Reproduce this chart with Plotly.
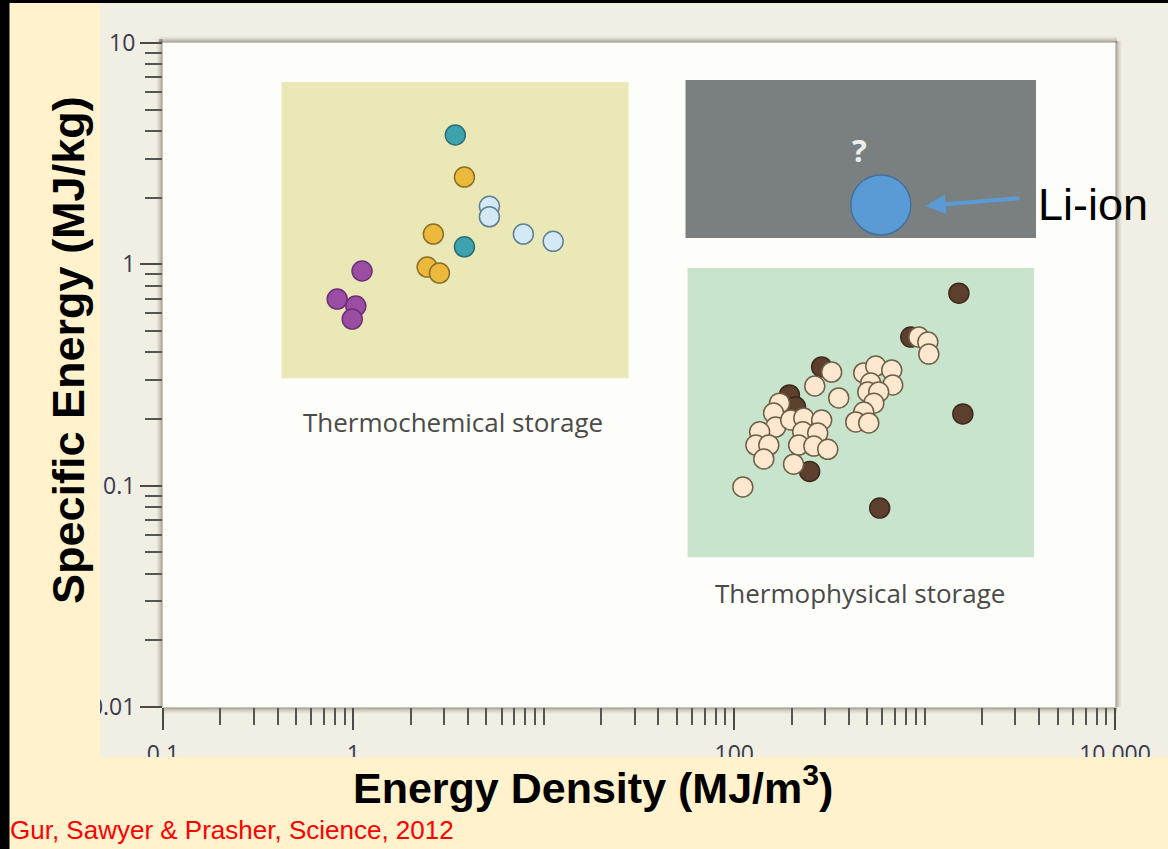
import numpy as np
import plotly.graph_objects as go

# ---------------- data ----------------
purple_x = [1.11, 0.822, 1.03, 0.986]
purple_y = [0.933, 0.697, 0.648, 0.566]
yellow_x = [3.83, 2.63, 2.44, 2.83]
yellow_y = [2.48, 1.37, 0.972, 0.913]
teal_x = [3.43, 3.83]
teal_y = [3.84, 1.20]
lightblue_x = [5.18, 5.18, 7.81, 11.2]
lightblue_y = [1.83, 1.64, 1.37, 1.27]

dark_x = [1514, 846, 288, 195, 210, 249, 1588, 581]
dark_y = [0.741, 0.469, 0.344, 0.257, 0.227, 0.116, 0.211, 0.0792]
cream_x = [932, 1040, 1052, 325, 265, 354, 479, 554, 672, 521, 680, 503, 574,
           541, 479, 435, 509, 173, 161, 165, 198, 232, 288, 229, 274.5, 136,
           130, 152, 218, 262, 310, 143, 205, 111]
cream_y = [0.469, 0.4455, 0.393, 0.326, 0.282, 0.249, 0.323, 0.347, 0.333,
           0.291, 0.285, 0.265, 0.265, 0.236, 0.215, 0.194, 0.192, 0.236,
           0.213, 0.184, 0.198, 0.202, 0.198, 0.175, 0.173, 0.175, 0.1526,
           0.1526, 0.1526, 0.151, 0.146, 0.132, 0.125, 0.0986]
liion_x = [589]
liion_y = [1.855]

x_tickvals = [0.1, 1, 100, 10000]
x_ticktext = ["0.1", "1", "100", "10 000"]
y_tickvals = [0.01, 0.1, 1, 10]
y_ticktext = ["0.01", "0.1", "1", "10"]

# regions (data units)
chem_box = dict(x0=0.42, x1=27.9, y0=0.306, y1=6.67)
unknown_box = dict(x0=55.5, x1=3846, y0=1.315, y1=6.81)
phys_box = dict(x0=56.9, x1=3750, y0=0.0475, y1=0.962)

# ---------------- layout geometry (pixels) ----------------
W, H = 1168, 849
L, R, T, B = 163, 1115, 43, 707


def px(x):
    return (x - L) / (R - L)


def py(y):
    return (B - y) / (B - T)


CREAM = "#FFF2CC"
BEIGE = "#F1EEE4"
WHITE = "#FDFDFA"

fig = go.Figure()


def add_pts(xs, ys, fill, edge, size=20, name=""):
    fig.add_trace(go.Scatter(
        x=xs, y=ys, mode="markers", name=name, hoverinfo="x+y",
        marker=dict(size=size, color=fill, line=dict(color=edge, width=1.5)),
    ))


add_pts(purple_x, purple_y, "#9A4DA3", "#6E2F78", name="purple")
add_pts(yellow_x, yellow_y, "#EDB93C", "#8A7025", name="yellow")
add_pts(teal_x, teal_y, "#3FA3AE", "#2B6F77", name="teal")
add_pts(lightblue_x, lightblue_y, "#D3EAF6", "#5F7F92", name="lightblue")
add_pts(dark_x, dark_y, "#5C3F2C", "#3E2A1C", name="dark")
add_pts(cream_x, cream_y, "#FDE7CF", "#6E6048", name="cream")
add_pts(liion_x, liion_y, "#5B9BD5", "#41719C", size=60, name="Li-ion")


def prect(x0, x1, y0, y1, color, layer):
    return dict(type="rect", xref="paper", yref="paper", layer=layer,
                x0=px(x0), x1=px(x1), y0=py(y1), y1=py(y0),
                fillcolor=color, line=dict(width=0))


shapes = [
    prect(8, W + 2, 3, H + 2, CREAM, "below"),
    prect(100, W + 2, 3, 757, BEIGE, "below"),
]
# soft shadow round the plot area
for i, a in enumerate([0.22, 0.16, 0.11, 0.07, 0.04, 0.02]):
    shapes.append(dict(type="line", xref="paper", yref="paper", layer="below",
                       x0=px(L - 1 - i), x1=px(L - 1 - i), y0=py(B), y1=py(T - 4),
                       line=dict(color=f"rgba(60,50,30,{a})", width=2)))
    shapes.append(dict(type="line", xref="paper", yref="paper", layer="below",
                       x0=px(L - 4), x1=px(R + 2), y0=py(T - 1 - i), y1=py(T - 1 - i),
                       line=dict(color=f"rgba(60,50,30,{a})", width=2)))
    shapes.append(dict(type="line", xref="paper", yref="paper", layer="below",
                       x0=px(L), x1=px(R + 2), y0=py(B + 1 + i), y1=py(B + 1 + i),
                       line=dict(color=f"rgba(60,50,30,{a})", width=2)))
    shapes.append(dict(type="line", xref="paper", yref="paper", layer="below",
                       x0=px(R + 1 + i), x1=px(R + 1 + i), y0=py(B), y1=py(T - 2),
                       line=dict(color=f"rgba(60,50,30,{a})", width=2)))
shapes.append(dict(type="rect", xref="paper", yref="paper", layer="below",
                   x0=0, x1=1, y0=0, y1=1, fillcolor=WHITE, line=dict(width=0)))

for box, col in [(chem_box, "#EAE8B6"), (unknown_box, "#7A8080"),
                 (phys_box, "#C8E4CD")]:
    shapes.append(dict(type="rect", xref="x", yref="y", layer="below",
                       fillcolor=col, line=dict(width=0), **box))

# slide bands above the tick labels (they clip the labels as in the reference)
shapes += [
    prect(8, 100, 3, H + 2, CREAM, "above"),
    prect(8, W + 2, 757, H + 2, CREAM, "above"),
]

annotations = [
    # black slide border on the left edge
    dict(text=" ", x=px(0), y=py(0), xref="paper", yref="paper",
         xanchor="left", yanchor="top", width=8, height=H, borderpad=0,
         bgcolor="black", showarrow=False, font=dict(size=1, color="black")),
    dict(text="Thermochemical storage", x=0.5247, y=-0.7126, xref="x", yref="y",
         showarrow=False, font=dict(family="Open Sans", size=26, color="#4A4A4A")),
    dict(text="Thermophysical storage", x=2.659, y=-1.485, xref="x", yref="y",
         showarrow=False, font=dict(family="Open Sans", size=26, color="#4A4A4A")),
    dict(text="<b>?</b>", x=2.659, y=0.5165, xref="x", yref="y",
         showarrow=False, font=dict(family="Open Sans", size=31, color="#EEEEEE")),
    dict(text="", x=3.006, y=0.2634, xref="x", yref="y", showarrow=True,
         ax=95, ay=-8, arrowhead=2, arrowsize=1, arrowwidth=4, arrowcolor="#5B9BD5",
         standoff=0),
    dict(text="Li-ion", x=3.585, y=0.27, xref="x", yref="y", xanchor="left",
         yanchor="middle", showarrow=False,
         font=dict(family="Liberation Sans, Arial", size=45, color="black")),
    dict(text="<b>Energy Density (MJ/m<sup>3</sup>)</b>", x=px(593), y=py(785),
         xref="paper", yref="paper", xanchor="center", yanchor="middle",
         showarrow=False,
         font=dict(family="Liberation Sans, Arial", size=43, color="black")),
    dict(text="<b>Specific Energy (MJ/kg)</b>", x=px(68), y=py(350),
         xref="paper", yref="paper", xanchor="center", yanchor="middle",
         showarrow=False, textangle=-90,
         font=dict(family="Liberation Sans, Arial", size=45, color="black")),
    dict(text="Gur, Sawyer &amp; Prasher, Science, 2012", x=px(8), y=py(830),
         xref="paper", yref="paper", xanchor="left", yanchor="middle",
         showarrow=False,
         font=dict(family="Liberation Sans, Arial", size=26, color="#FF0000")),
]

x_minor = [k * 10.0 ** d for d in range(-1, 4) for k in range(2, 10)] + [10, 1000]
y_minor = [k * 10.0 ** d for d in range(-2, 1) for k in range(2, 10)]

tick_font = dict(family="Open Sans", size=23, color="#3A3A4A")

fig.update_layout(
    width=W, height=H,
    margin=dict(l=L, r=W - R, t=T, b=H - B, pad=0),
    paper_bgcolor="black", plot_bgcolor=WHITE,
    showlegend=False,
    shapes=shapes, annotations=annotations,
    xaxis=dict(type="log", range=[-1, 4], tickvals=x_tickvals, ticktext=x_ticktext,
               ticks="outside", ticklen=22, tickwidth=2, tickcolor="#4A4A4A",
               showgrid=False, zeroline=False, showline=False,
               ticklabelstandoff=4, tickfont=tick_font,
               minor=dict(tickvals=x_minor, ticks="outside", ticklen=17, tickwidth=2,
                          tickcolor="#555555", showgrid=False)),
    yaxis=dict(type="log", range=[-2, 1], tickvals=y_tickvals, ticktext=y_ticktext,
               ticks="outside", ticklen=22, tickwidth=2, tickcolor="#4A4A4A",
               showgrid=False, zeroline=False, showline=False,
               tickfont=tick_font,
               minor=dict(tickvals=y_minor, ticks="outside", ticklen=17, tickwidth=2,
                          tickcolor="#555555", showgrid=False)),
)

fig.write_html("out.html",
               config={"displayModeBar": False},
               post_script="document.body.style.margin='0px';"
                           "document.body.style.overflow='hidden';")
